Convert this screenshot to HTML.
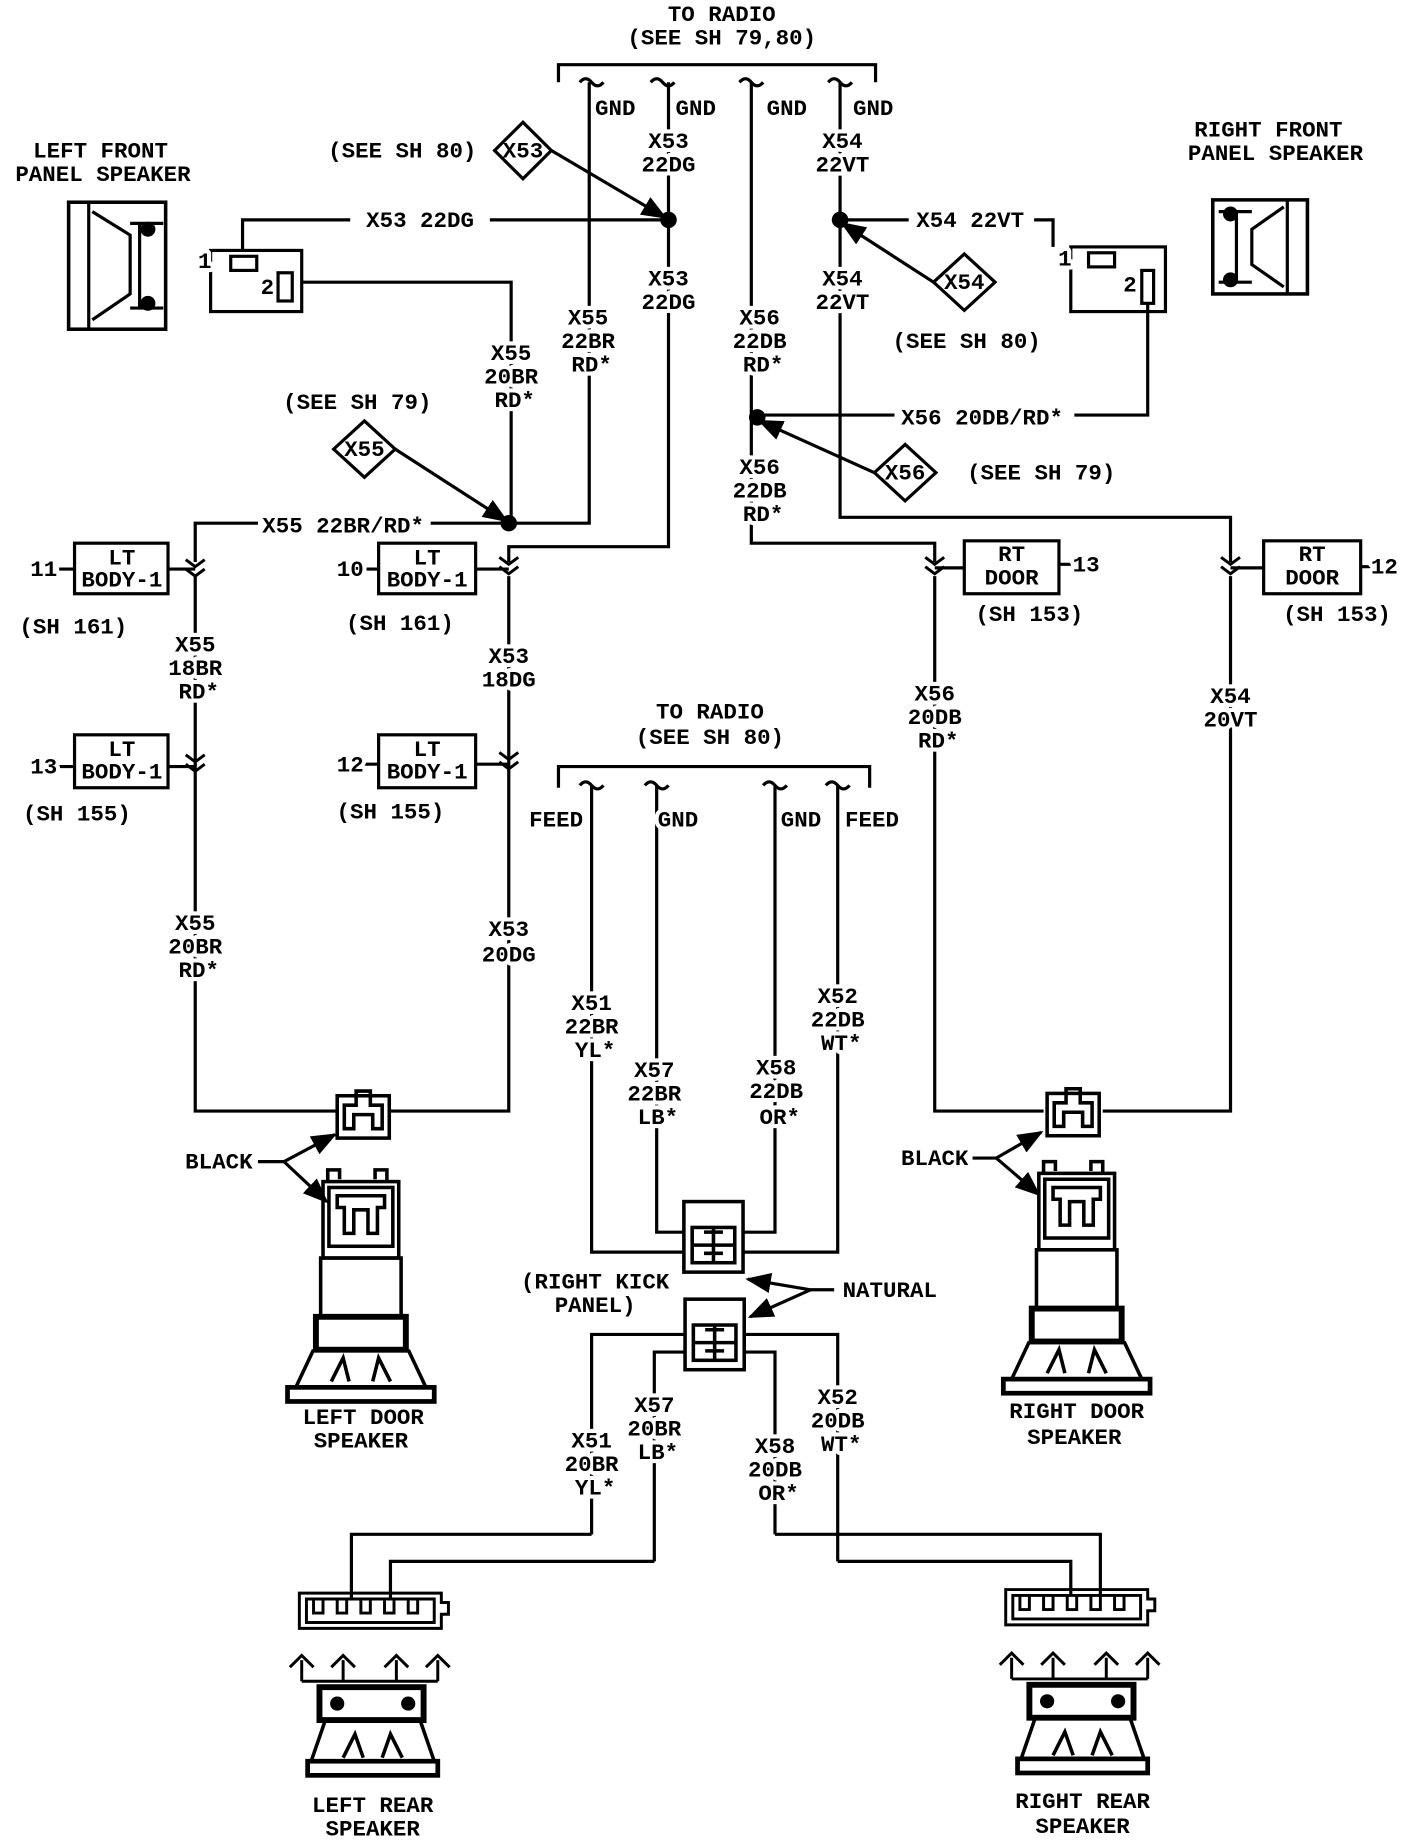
<!DOCTYPE html>
<html><head><meta charset="utf-8"><style>
html,body{margin:0;padding:0;background:#fff;}
svg{display:block;}
text{font-family:"Liberation Mono",monospace;font-weight:bold;font-size:19px;fill:#000;text-anchor:middle;stroke:#fff;stroke-width:7px;paint-order:stroke;stroke-linejoin:round;}
</style></head><body>
<svg width="1408" height="1840" viewBox="0 0 1190 1565" preserveAspectRatio="none" xmlns="http://www.w3.org/2000/svg">
<defs>
<marker id="ar" viewBox="0 0 10 10" refX="9" refY="5" markerWidth="8" markerHeight="8" orient="auto"><path d="M0,1 L10,5 L0,9 Z" fill="#000"/></marker>
<g id="chev"><path d="M-8,-6 L0,0 L8,-6 M-8,2 L0,8 L8,2" fill="none" stroke="#000" stroke-width="2.5"/></g>
<g id="doorspk">
<path d="M-28,0 v-10 h10 v8 M22,0 v-10 h-10 v8" fill="none" stroke="#000" stroke-width="3"/>
<rect x="-32" y="0" width="64" height="65" fill="none" stroke="#000" stroke-width="3"/>
<rect x="-27" y="5" width="54" height="50" fill="none" stroke="#000" stroke-width="3"/>
<path d="M-20,12 h40 v10 h-6 v22 h-8 v-20 h-12 v20 h-8 v-22 h-6z" fill="none" stroke="#000" stroke-width="3"/>
<rect x="-34" y="65" width="68" height="50" fill="none" stroke="#000" stroke-width="3"/>
<rect x="-38" y="115" width="76" height="28" fill="none" stroke="#000" stroke-width="5"/>
<path d="M-40,143 L-55,175 H55 L40,143 M-25,170 L-15,150 L-10,170 M10,170 L15,150 L25,170" fill="none" stroke="#000" stroke-width="3"/>
<rect x="-62" y="175" width="124" height="12" fill="none" stroke="#000" stroke-width="4"/>
</g>
<g id="rearspk">
<path d="M-60,10 v-18 M-70,-2 l10,-10 l10,10 M-25,10 v-18 M-35,-2 l10,-10 l10,10 M20,10 v-18 M10,-2 l10,-10 l10,10 M55,10 v-18 M45,-2 l10,-10 l10,10 M-60,10 H55" fill="none" stroke="#000" stroke-width="2.5"/>
<rect x="-45" y="15" width="88" height="28" fill="none" stroke="#000" stroke-width="5"/>
<circle cx="-30" cy="29" r="6"/><circle cx="30" cy="29" r="6"/>
<path d="M-40,43 L-52,78 H52 L40,43 M-25,75 L-15,55 L-8,75 M8,75 L15,55 L25,75" fill="none" stroke="#000" stroke-width="3"/>
<rect x="-55" y="78" width="110" height="12" fill="none" stroke="#000" stroke-width="4"/>
</g>
<g id="rearcon">
<path d="M-62,0 h120 v8 h6 v10 h-6 v12 h-120 z M-56,5 h108 v20 h-108z M-50,5 v12 h8 v-12 M-30,5 v12 h8 v-12 M-10,5 v12 h8 v-12 M10,5 v12 h8 v-12 M30,5 v12 h8 v-12" fill="none" stroke="#000" stroke-width="2.5"/>
</g>
<g id="smallcon">
<rect x="-22" y="0" width="44" height="36" fill="none" stroke="#000" stroke-width="3"/>
<path d="M-16,8 h10 v-12 h12 v12 h10 v20 h-8 v-12 h-16 v12 h-8z" fill="none" stroke="#000" stroke-width="3"/>
</g>
<g id="kick">
<rect x="-25" y="0" width="50" height="60" fill="none" stroke="#000" stroke-width="3"/>
<rect x="-18" y="22" width="36" height="30" fill="none" stroke="#000" stroke-width="3"/>
<path d="M-18,37 h36 M0,22 v30 M-8,26 h16 M-8,44 h16" stroke="#000" stroke-width="3"/>
</g>
</defs>
<g fill="none" stroke="#000" stroke-width="2.7">
<path d="M472,70 V55 H740 V70"/>
<path d="M490,70 q5,-6 10,0 q5,6 10,0 M550,70 q5,-6 10,0 q5,6 10,0 M625,70 q5,-6 10,0 q5,6 10,0 M700,70 q5,-6 10,0 q5,6 10,0"/>
<path d="M498,70 V445 H430"/>
<path d="M565,70 V465 H430 V478"/>
<path d="M635,70 V462 H790 V478"/>
<path d="M710,70 V440 H1040 V478"/>
<path d="M205,213 V187 H565"/>
<path d="M255,240 H432 V445"/>
<path d="M165,478 V445 H430"/>
<rect x="178" y="213" width="77" height="52"/>
<rect x="195" y="218" width="22" height="12"/>
<rect x="235" y="232" width="12" height="24"/>
<path d="M710,187 H890 V210"/>
<rect x="905" y="210" width="80" height="55"/>
<rect x="920" y="215" width="22" height="12"/>
<rect x="965" y="230" width="10" height="28"/>
<path d="M970,258 V353 H640"/>
<path d="M442,104 L466,128 L442,152 L418,128Z" fill="#fff"/>
<path d="M308,358 L334,382 L308,406 L282,382Z" fill="#fff"/>
<path d="M815,216 L841,240 L815,264 L789,240Z" fill="#fff"/>
<path d="M765,378 L791,402 L765,426 L739,402Z" fill="#fff"/>
<path d="M466,128 L562,185" marker-end="url(#ar)"/>
<path d="M334,382 L428,443" marker-end="url(#ar)"/>
<path d="M789,240 L712,190" marker-end="url(#ar)"/>
<path d="M739,402 L642,358" marker-end="url(#ar)"/>
<rect x="63" y="462" width="79" height="43"/>
<rect x="320" y="462" width="82" height="43"/>
<rect x="63" y="625" width="79" height="45"/>
<rect x="320" y="625" width="82" height="45"/>
<rect x="815" y="460" width="80" height="45"/>
<rect x="1068" y="460" width="82" height="45"/>
<path d="M50,484 H63 M142,484 H165 M306,484 H320 M402,484 H430 M50,652 H63 M142,652 H165 M306,650 H320 M402,650 H430 M790,483 H815 M895,480 H905 M1040,483 H1068 M1150,482 H1160"/>
<path d="M165,490 V945 H285 M330,945 H430 V490"/>
<path d="M790,490 V945 H882 M932,945 H1040 V490"/>
<path d="M472,670 V652 H735 V670"/>
<path d="M490,668 q5,-6 10,0 q5,6 10,0 M545,668 q5,-6 10,0 q5,6 10,0 M645,668 q5,-6 10,0 q5,6 10,0 M698,668 q5,-6 10,0 q5,6 10,0"/>
<path d="M500,668 V1065 H578 M555,668 V1048 H578 M655,668 V1048 H628 M708,668 V1065 H628"/>
<path d="M500,1305 V1135 H578 M553,1328 V1150 H578 M655,1305 V1150 H630 M708,1328 V1135 H630"/>
<path d="M500,1305 H297 V1360 M553,1328 H330 V1360 M655,1305 H930 V1358 M708,1328 H905 V1358"/>
<path d="M218,988 H240 L283,965" marker-end="url(#ar)"/>
<path d="M240,988 L276,1022" marker-end="url(#ar)"/>
<path d="M822,985 H842 L880,963" marker-end="url(#ar)"/>
<path d="M842,985 L878,1016" marker-end="url(#ar)"/>
<path d="M705,1097 H685 L632,1088" marker-end="url(#ar)"/>
<path d="M685,1097 L634,1120" marker-end="url(#ar)"/>
<rect x="58" y="172" width="82" height="108" stroke-width="3"/>
<path d="M75,172 V280 M78,180 L110,200 V250 L78,272 M110,190 h28 M110,262 h28 M118,190 v72" />
<circle cx="125" cy="195" r="5" fill="#000"/><circle cx="125" cy="258" r="5" fill="#000"/>
<rect x="1025" y="170" width="80" height="80" stroke-width="3"/>
<path d="M1088,170 V250 M1085,176 L1058,195 V225 L1085,244 M1030,180 h28 M1030,240 h28 M1045,180 v60"/>
<circle cx="1040" cy="182" r="5" fill="#000"/><circle cx="1040" cy="238" r="5" fill="#000"/>
</g>
<g fill="#fff">
<rect x="296" y="178" width="118" height="18"/>
<rect x="768" y="178" width="106" height="18"/>
<rect x="756" y="346" width="152" height="18"/>
<rect x="218" y="436" width="146" height="18"/>
</g>
<circle cx="565" cy="187" r="7"/><circle cx="710" cy="187" r="7"/>
<circle cx="430" cy="445" r="7"/><circle cx="640" cy="355" r="7"/>
<use href="#chev" x="165" y="482"/><use href="#chev" x="430" y="480"/>
<use href="#chev" x="165" y="648"/><use href="#chev" x="430" y="646"/>
<use href="#chev" x="790" y="480"/><use href="#chev" x="1040" y="480"/>
<use href="#smallcon" x="307" y="932"/>
<use href="#smallcon" x="907" y="930"/>
<use href="#doorspk" x="305" y="1005"/>
<use href="#doorspk" x="910" y="998"/>
<use href="#kick" x="603" y="1022"/>
<use href="#kick" x="604" y="1105"/>
<use href="#rearcon" x="315" y="1355"/>
<use href="#rearcon" x="912" y="1352"/>
<use href="#rearspk" x="315" y="1420"/>
<use href="#rearspk" x="915" y="1418"/>
<text x="610" y="18">TO RADIO</text>
<text x="610" y="38">(SEE SH 79,80)</text>
<text x="520" y="98">GND</text><text x="588" y="98">GND</text><text x="665" y="98">GND</text><text x="738" y="98">GND</text>
<text x="85" y="134">LEFT FRONT</text><text x="87" y="154">PANEL SPEAKER</text>
<text x="1072" y="116">RIGHT FRONT</text><text x="1078" y="136">PANEL SPEAKER</text>
<text x="340" y="134">(SEE SH 80)</text><text x="442" y="134" style="stroke:none">X53</text>
<text x="565" y="126">X53</text><text x="565" y="146">22DG</text>
<text x="712" y="126">X54</text><text x="712" y="146">22VT</text>
<text x="355" y="193">X53 22DG</text><text x="820" y="193">X54 22VT</text>
<text x="173" y="228">1</text><text x="226" y="250" style="stroke:none">2</text>
<text x="900" y="226">1</text><text x="955" y="248" style="stroke:none">2</text>
<text x="565" y="243">X53</text><text x="565" y="263">22DG</text>
<text x="712" y="243">X54</text><text x="712" y="263">22VT</text>
<text x="815" y="246" style="stroke:none">X54</text>
<text x="817" y="296">(SEE SH 80)</text>
<text x="497" y="276">X55</text><text x="497" y="296">22BR</text><text x="500" y="316">RD*</text>
<text x="642" y="276">X56</text><text x="642" y="296">22DB</text><text x="645" y="316">RD*</text>
<text x="432" y="306">X55</text><text x="432" y="326">20BR</text><text x="435" y="346">RD*</text>
<text x="302" y="348">(SEE SH 79)</text><text x="308" y="388" style="stroke:none">X55</text>
<text x="830" y="361">X56 20DB/RD*</text>
<text x="765" y="408" style="stroke:none">X56</text><text x="880" y="408">(SEE SH 79)</text>
<text x="642" y="403">X56</text><text x="642" y="423">22DB</text><text x="645" y="443">RD*</text>
<text x="290" y="453">X55 22BR/RD*</text>
<text x="103" y="480" style="stroke:none">LT</text><text x="103" y="499" style="stroke:none">BODY-1</text>
<text x="361" y="480" style="stroke:none">LT</text><text x="361" y="499" style="stroke:none">BODY-1</text>
<text x="103" y="643" style="stroke:none">LT</text><text x="103" y="662" style="stroke:none">BODY-1</text>
<text x="361" y="643" style="stroke:none">LT</text><text x="361" y="662" style="stroke:none">BODY-1</text>
<text x="855" y="477" style="stroke:none">RT</text><text x="855" y="497" style="stroke:none">DOOR</text>
<text x="1109" y="477" style="stroke:none">RT</text><text x="1109" y="497" style="stroke:none">DOOR</text>
<text x="37" y="490">11</text><text x="296" y="490">10</text><text x="37" y="658">13</text><text x="296" y="656">12</text>
<text x="918" y="486">13</text><text x="1170" y="488">12</text>
<text x="62" y="539">(SH 161)</text><text x="338" y="536">(SH 161)</text>
<text x="65" y="698">(SH 155)</text><text x="330" y="696">(SH 155)</text>
<text x="870" y="528">(SH 153)</text><text x="1130" y="528">(SH 153)</text>
<text x="165" y="554">X55</text><text x="165" y="574">18BR</text><text x="168" y="594">RD*</text>
<text x="430" y="564">X53</text><text x="430" y="584">18DG</text>
<text x="790" y="596">X56</text><text x="790" y="616">20DB</text><text x="793" y="636">RD*</text>
<text x="1040" y="598">X54</text><text x="1040" y="618">20VT</text>
<text x="600" y="611">TO RADIO</text><text x="600" y="633">(SEE SH 80)</text>
<text x="470" y="703">FEED</text><text x="573" y="703">GND</text><text x="677" y="703">GND</text><text x="737" y="703">FEED</text>
<text x="165" y="791">X55</text><text x="165" y="811">20BR</text><text x="168" y="831">RD*</text>
<text x="430" y="796">X53</text><text x="430" y="818">20DG</text>
<text x="500" y="859">X51</text><text x="500" y="879">22BR</text><text x="503" y="899">YL*</text>
<text x="553" y="916">X57</text><text x="553" y="936">22BR</text><text x="556" y="956">LB*</text>
<text x="656" y="914">X58</text><text x="656" y="934">22DB</text><text x="659" y="956">OR*</text>
<text x="708" y="853">X52</text><text x="708" y="873">22DB</text><text x="711" y="893">WT*</text>
<text x="185" y="994">BLACK</text><text x="790" y="991">BLACK</text>
<text x="503" y="1096">(RIGHT KICK</text><text x="503" y="1116">PANEL)</text>
<text x="752" y="1103">NATURAL</text>
<text x="307" y="1211">LEFT DOOR</text><text x="305" y="1231">SPEAKER</text>
<text x="910" y="1206">RIGHT DOOR</text><text x="908" y="1228">SPEAKER</text>
<text x="500" y="1231">X51</text><text x="500" y="1251">20BR</text><text x="503" y="1271">YL*</text>
<text x="553" y="1201">X57</text><text x="553" y="1221">20BR</text><text x="556" y="1241">LB*</text>
<text x="655" y="1236">X58</text><text x="655" y="1256">20DB</text><text x="658" y="1276">OR*</text>
<text x="708" y="1194">X52</text><text x="708" y="1214">20DB</text><text x="711" y="1234">WT*</text>
<text x="315" y="1541">LEFT REAR</text><text x="315" y="1561">SPEAKER</text>
<text x="915" y="1538">RIGHT REAR</text><text x="915" y="1559">SPEAKER</text>
</svg>
</body></html>
